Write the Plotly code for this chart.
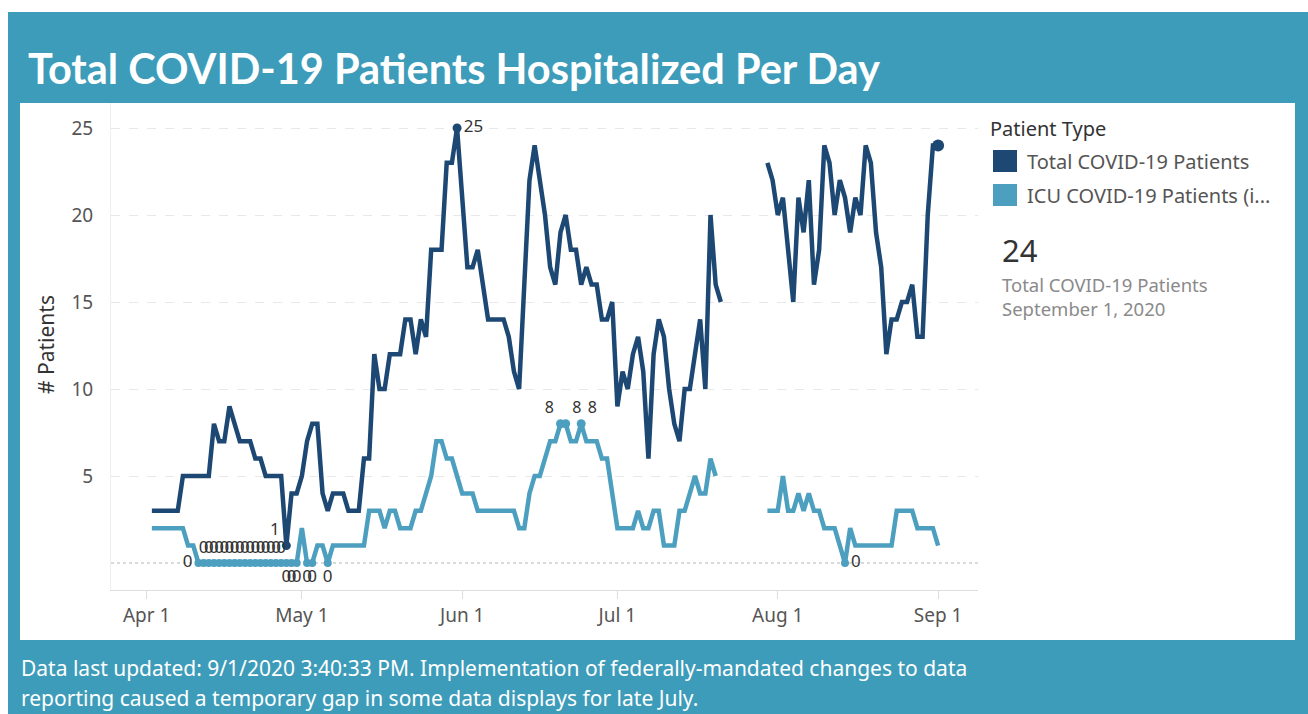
import pandas as pd
import plotly.graph_objects as go

# ---------------- data ----------------
dates = pd.date_range("2020-04-02", "2020-09-01", freq="D")

total_patients = [
    3, 3, 3, 3, 3, 3, 5, 5, 5, 5, 5, 5, 8, 7, 7, 9, 8, 7, 7, 7,          # Apr 2 - Apr 21
    6, 6, 5, 5, 5, 5, 1, 4, 4, 5, 7, 8, 8, 4, 3, 4, 4, 4, 3, 3,          # Apr 22 - May 11
    3, 6, 6, 12, 10, 10, 12, 12, 12, 14, 14, 12, 14, 13, 18, 18, 18, 23, 23, 25,  # May 12 - May 31
    21, 17, 17, 18, 16, 14, 14, 14, 14, 13, 11, 10, 16, 22, 24, 22, 20, 17, 16, 19,  # Jun 1 - Jun 20
    20, 18, 18, 16, 17, 16, 16, 14, 14, 15, 9, 11, 10, 12, 13, 11, 6, 12, 14, 13,    # Jun 21 - Jul 10
    10, 8, 7, 10, 10, 12, 14, 10, 20, 16, 15,                                        # Jul 11 - Jul 21
    None, None, None, None, None, None, None, None,                                  # Jul 22 - Jul 29
    23, 22, 20, 21, 18, 15, 21, 19, 22, 16, 18, 24, 23, 20, 22, 21, 19, 21, 20, 24,  # Jul 30 - Aug 18
    23, 19, 17, 12, 14, 14, 15, 15, 16, 13, 13, 20, 24, 24,                          # Aug 19 - Sep 1
]

icu_patients = [
    2, 2, 2, 2, 2, 2, 2, 1, 1, 0, 0, 0, 0, 0, 0, 0, 0, 0, 0, 0,          # Apr 2 - Apr 21
    0, 0, 0, 0, 0, 0, 0, 0, 0, 2, 0, 0, 1, 1, 0, 1, 1, 1, 1, 1,          # Apr 22 - May 11
    1, 1, 3, 3, 3, 2, 3, 3, 2, 2, 2, 3, 3, 4, 5, 7, 7, 6, 6, 5,          # May 12 - May 31
    4, 4, 4, 3, 3, 3, 3, 3, 3, 3, 3, 2, 2, 4, 5, 5, 6, 7, 7, 8,          # Jun 1 - Jun 20
    8, 7, 7, 8, 7, 7, 7, 6, 6, 4, 2, 2, 2, 2, 3, 2, 2, 3, 3, 1,          # Jun 21 - Jul 10
    1, 1, 3, 3, 4, 5, 4, 4, 6, 5,                                        # Jul 11 - Jul 20
    None, None, None, None, None, None, None, None, None,                # Jul 21 - Jul 29
    3, 3, 3, 5, 3, 3, 4, 3, 4, 3, 3, 2, 2, 2, 1, 0, 2, 1, 1, 1,          # Jul 30 - Aug 18
    1, 1, 1, 1, 1, 3, 3, 3, 3, 2, 2, 2, 2, 1,                            # Aug 19 - Sep 1
]

month_ticks = ["2020-04-01", "2020-05-01", "2020-06-01", "2020-07-01", "2020-08-01", "2020-09-01"]
month_labels = ["Apr 1", "May 1", "Jun 1", "Jul 1", "Aug 1", "Sep 1"]
y_ticks = [5, 10, 15, 20, 25]

series_names = ["Total COVID-19 Patients", "ICU COVID-19 Patients (i..."]

# ---------------- style ----------------
NAVY = "#1d4873"
TEAL = "#4d9fbf"
BAND = "#3d9cb9"
FONT = "Noto Sans"

W, H = 1308, 714
PL, PR, PT, PB = 111, 978, 103, 590


def px(x):
    return (x - PL) / (PR - PL)


def py(y):
    return (PB - y) / (PB - PT)


df = pd.DataFrame({"date": dates, "total": total_patients, "icu": icu_patients})

fig = go.Figure()

fig.add_trace(go.Scatter(x=df["date"], y=df["icu"], mode="lines", name=series_names[1],
                         line=dict(color=TEAL, width=4.5), connectgaps=False, showlegend=False,
                         hoverinfo="skip"))
fig.add_trace(go.Scatter(x=df["date"], y=df["total"], mode="lines", name=series_names[0],
                         line=dict(color=NAVY, width=4.5), connectgaps=False, showlegend=False,
                         hoverinfo="skip"))

LABEL_FONT = dict(family=FONT, size=17, color="#333333")

# ---- min / max labels ----
tot = df.dropna(subset=["total"])
t_max = tot.loc[tot["total"].idxmax()]
t_min = tot.loc[tot["total"].idxmin()]
t_last = tot.iloc[-1]
fig.add_trace(go.Scatter(x=[t_max["date"], t_min["date"]], y=[t_max["total"], t_min["total"]],
                         mode="markers+text", text=[str(int(t_max["total"])), str(int(t_min["total"]))],
                         textposition=["middle right", "top left"],
                         marker=dict(color=NAVY, size=9), showlegend=False, hoverinfo="skip",
                         textfont=LABEL_FONT))
fig.add_trace(go.Scatter(x=[t_last["date"]], y=[t_last["total"]], mode="markers",
                         marker=dict(color=NAVY, size=12), showlegend=False, hoverinfo="skip"))

icu = df.dropna(subset=["icu"])
icu_max = icu[icu["icu"] == icu["icu"].max()]
max_pos = ["top left", "top right", "top right"]
fig.add_trace(go.Scatter(x=icu_max["date"], y=icu_max["icu"], mode="markers+text",
                         text=[str(int(v)) for v in icu_max["icu"]],
                         textposition=max_pos[:len(icu_max)],
                         marker=dict(color=TEAL, size=9), showlegend=False, hoverinfo="skip",
                         textfont=dict(family=FONT, size=16, color="#333333")))

icu_zero = icu[icu["icu"] == icu["icu"].min()]
zero_pos = []
for d in icu_zero["date"]:
    if d == icu_zero["date"].iloc[0]:
        zero_pos.append("middle left")
    elif d < pd.Timestamp("2020-04-28"):
        zero_pos.append("top center")
    elif d < pd.Timestamp("2020-06-01"):
        zero_pos.append("bottom center")
    else:
        zero_pos.append("middle right")
fig.add_trace(go.Scatter(x=icu_zero["date"], y=icu_zero["icu"], mode="markers+text",
                         text=[str(int(v)) for v in icu_zero["icu"]], textposition=zero_pos,
                         marker=dict(color=TEAL, size=8), showlegend=False, hoverinfo="skip",
                         textfont=dict(family=FONT, size=17, color="#333333")))

# ---- axes ----
apr1 = pd.Timestamp("2020-04-01")
px_per_day = (938.1 - 146.7) / 153.0
x_left = apr1 + pd.Timedelta(days=(PL - 146.7) / px_per_day)
x_right = apr1 + pd.Timedelta(days=(PR - 146.7) / px_per_day)
px_per_unit = 17.4
y_bottom = -(PB - 563) / px_per_unit
y_top = (563 - PT) / px_per_unit

fig.update_xaxes(range=[x_left, x_right], tickvals=month_ticks, ticktext=month_labels,
                 showgrid=False, zeroline=False, showline=True, linecolor="#dddddd", linewidth=1,
                 ticks="outside", ticklen=8, tickcolor="#dddddd",
                 tickfont=dict(family=FONT, size=19, color="#555555"))
fig.update_yaxes(range=[y_bottom, y_top], tickvals=y_ticks, ticktext=[str(v) for v in y_ticks],
                 showgrid=True, gridcolor="#e8e8e8", griddash="dash", gridwidth=1,
                 zeroline=False, showline=True, linecolor="#efefef", ticks="",
                 ticklabelstandoff=13,
                 tickfont=dict(family=FONT, size=19, color="#555555"))

shapes = [
    dict(type="rect", xref="paper", yref="paper", x0=px(0), x1=px(W), y0=py(0), y1=py(12),
         fillcolor="white", line=dict(width=0), layer="below"),
    dict(type="rect", xref="paper", yref="paper", x0=px(0), x1=px(8), y0=py(0), y1=py(H),
         fillcolor="white", line=dict(width=0), layer="below"),
    dict(type="rect", xref="paper", yref="paper", x0=px(20), x1=px(1295), y0=py(103), y1=py(640),
         fillcolor="white", line=dict(width=0), layer="below"),
    dict(type="line", xref="paper", yref="y", x0=0, x1=1, y0=0, y1=0,
         line=dict(color="#b5b5b5", width=1, dash="dot"), layer="below"),
    dict(type="rect", xref="paper", yref="paper", x0=px(993), x1=px(1017), y0=py(150), y1=py(172),
         fillcolor=NAVY, line=dict(width=0)),
    dict(type="rect", xref="paper", yref="paper", x0=px(993), x1=px(1017), y0=py(184), y1=py(206),
         fillcolor=TEAL, line=dict(width=0)),
]

annotations = [
    dict(text="<b>Total COVID-19 Patients Hospitalized Per Day</b>", x=px(26), y=py(68),
         xref="paper", yref="paper", xanchor="left", yanchor="middle", showarrow=False,
         font=dict(family="Lato", size=41.5, color="white", weight=900)),
    dict(text="Data last updated: 9/1/2020 3:40:33 PM. Implementation of federally-mandated changes to data",
         x=px(19), y=py(668), xref="paper", yref="paper", xanchor="left", yanchor="middle",
         showarrow=False, font=dict(family=FONT, size=21, color="white")),
    dict(text="reporting caused a temporary gap in some data displays for late July.",
         x=px(19), y=py(698), xref="paper", yref="paper", xanchor="left", yanchor="middle",
         showarrow=False, font=dict(family=FONT, size=21, color="white")),
    dict(text="# Patients", x=px(46), y=py(345), xref="paper", yref="paper", textangle=-90,
         xanchor="center", yanchor="middle", showarrow=False,
         font=dict(family=FONT, size=21, color="#333333")),
    dict(text="Patient Type", x=px(988), y=py(128), xref="paper", yref="paper",
         xanchor="left", yanchor="middle", showarrow=False,
         font=dict(family=FONT, size=20, color="#333333")),
    dict(text=series_names[0], x=px(1025), y=py(161), xref="paper", yref="paper",
         xanchor="left", yanchor="middle", showarrow=False,
         font=dict(family=FONT, size=20, color="#555555")),
    dict(text=series_names[1], x=px(1025), y=py(195), xref="paper", yref="paper",
         xanchor="left", yanchor="middle", showarrow=False,
         font=dict(family=FONT, size=20, color="#555555")),
    dict(text=str(int(t_last["total"])), x=px(1000), y=py(250), xref="paper", yref="paper",
         xanchor="left", yanchor="middle", showarrow=False,
         font=dict(family=FONT, size=31, color="#333333")),
    dict(text=series_names[0], x=px(1000), y=py(284), xref="paper", yref="paper",
         xanchor="left", yanchor="middle", showarrow=False,
         font=dict(family=FONT, size=18.5, color="#8a8a8a")),
    dict(text=t_last["date"].strftime("%B ") + str(t_last["date"].day) + t_last["date"].strftime(", %Y"),
         x=px(1000), y=py(308), xref="paper", yref="paper",
         xanchor="left", yanchor="middle", showarrow=False,
         font=dict(family=FONT, size=18.5, color="#8a8a8a")),
]

fig.update_layout(
    width=W, height=H, autosize=False,
    margin=dict(l=PL, r=W - PR, t=PT, b=H - PB, pad=0),
    paper_bgcolor=BAND, plot_bgcolor="white",
    shapes=shapes, annotations=annotations, showlegend=False,
    font=dict(family=FONT),
)

fig.write_html("out.html", config={"displayModeBar": False},
               post_script="document.body.style.margin='0px';document.body.style.overflow='hidden';")
